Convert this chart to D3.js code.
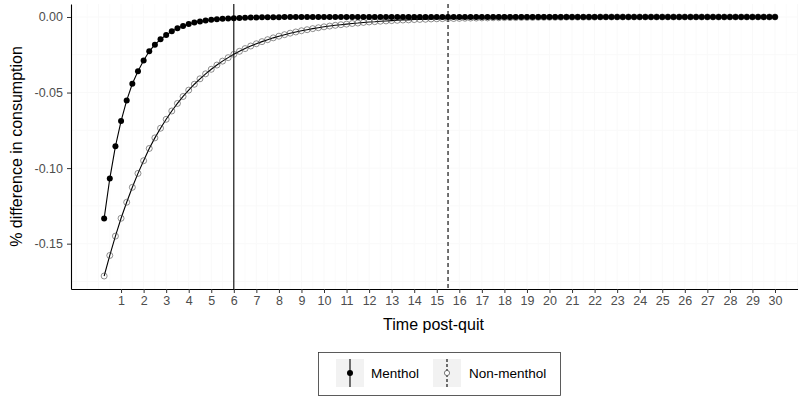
<!DOCTYPE html>
<html>
<head>
<meta charset="utf-8">
<script src="https://cdn.jsdelivr.net/npm/d3@7"></script>
<style>
  body { margin: 0; background: #fff; }
  svg { display: block; font-family: "Liberation Sans", Arial, sans-serif; }
</style>
</head>
<body>
<div id="chart"></div>
<script>
// months post-quit, every quarter month
const months = d3.range(1, 121).map(i => i / 4);

const menthol = [
  -0.1333, -0.1069, -0.0856, -0.0689, -0.0552, -0.0442, -0.0359, -0.0288,
  -0.0227, -0.0183, -0.0148, -0.0119, -0.0095, -0.0075, -0.0059, -0.0046,
  -0.0037, -0.0030, -0.0024, -0.0019, -0.0015, -0.0012, -0.0010, -0.0008,
  -0.0006, -0.0005, -0.0004, -0.0003, -0.0002, -0.0002, -0.0001, -0.0001,
  0, 0, 0, 0, 0, 0, 0, 0, 0, 0, 0, 0, 0, 0, 0, 0,
  0, 0, 0, 0, 0, 0, 0, 0, 0, 0, 0, 0, 0, 0, 0, 0,
  0, 0, 0, 0, 0, 0, 0, 0, 0, 0, 0, 0, 0, 0, 0, 0,
  0, 0, 0, 0, 0, 0, 0, 0, 0, 0, 0, 0, 0, 0, 0, 0,
  0, 0, 0, 0, 0, 0, 0, 0, 0, 0, 0, 0, 0, 0, 0, 0,
  0, 0, 0, 0, 0, 0, 0, 0
];

const nonMenthol = [
  -0.1714, -0.1578, -0.1450, -0.1332, -0.1226, -0.1127, -0.1035, -0.0951,
  -0.0870, -0.0800, -0.0736, -0.0677, -0.0622, -0.0572, -0.0526, -0.0484,
  -0.0445, -0.0409, -0.0376, -0.0346, -0.0318, -0.0292, -0.0269, -0.0247,
  -0.0227, -0.0209, -0.0192, -0.0177, -0.0163, -0.0150, -0.0138, -0.0127,
  -0.0117, -0.0107, -0.0099, -0.0091, -0.0084, -0.0077, -0.0071, -0.0065,
  -0.0060, -0.0055, -0.0051, -0.0047, -0.0043, -0.0040, -0.0036, -0.0033,
  -0.0031, -0.0028, -0.0026, -0.0024, -0.0022, -0.0020, -0.0019, -0.0017,
  -0.0016, -0.0015, -0.0013, -0.0012, -0.0011, -0.0010, -0.0010, -0.0009,
  -0.0008, -0.0007, -0.0007, -0.0006, -0.0006, -0.0005, -0.0005, -0.0004,
  -0.0004, -0.0004, -0.0003, -0.0003, -0.0003, -0.0002, -0.0002, -0.0002,
  -0.0002, -0.0002, -0.0001, -0.0001, -0.0001, -0.0001, -0.0001, -0.0001,
  0, 0, 0, 0, 0, 0, 0, 0, 0, 0, 0, 0, 0, 0, 0, 0,
  0, 0, 0, 0, 0, 0, 0, 0, 0, 0, 0, 0, 0, 0, 0, 0
];

const xTicks = d3.range(1, 31);
const yTicks = [0, -0.05, -0.10, -0.15];
const vlines = [{ name: "Menthol", x: 6, dash: null }, { name: "Non-menthol", x: 15.5, dash: "4,3" }];

const width = 798, height = 396;
const margin = { left: 71, right: 798, top: 4, bottom: 289 };

const svg = d3.select("#chart").append("svg")
  .attr("width", width)
  .attr("height", height);

const x = d3.scaleLinear().domain([-1.22, 31.02]).range([margin.left, margin.right]);
const y = d3.scaleLinear().domain([-0.18, 0.0086]).range([margin.bottom, margin.top]);

// very faint grid
const grid = svg.append("g");
d3.range(-1, 31.5, 0.5).forEach(v => {
  grid.append("line")
    .attr("x1", x(v)).attr("x2", x(v)).attr("y1", margin.top).attr("y2", margin.bottom)
    .attr("stroke", "#f9f9f9").attr("stroke-width", Number.isInteger(v) ? 1 : 0.6);
});
d3.range(-0.175, 0.001, 0.025).forEach(v => {
  grid.append("line")
    .attr("x1", margin.left).attr("x2", margin.right).attr("y1", y(v)).attr("y2", y(v))
    .attr("stroke", "#f9f9f9").attr("stroke-width", 1);
});

// vertical reference lines
svg.selectAll("line.vline")
  .data(vlines)
  .enter()
  .append("line")
  .attr("class", "vline")
  .attr("x1", d => x(d.x)).attr("x2", d => x(d.x))
  .attr("y1", margin.top).attr("y2", margin.bottom)
  .attr("stroke", "#000")
  .attr("stroke-width", 1.1)
  .attr("stroke-dasharray", d => d.dash);

const line = d3.line().x(d => x(d[0])).y(d => y(d[1]));
const mData = months.map((m, i) => [m, menthol[i]]);
const nData = months.map((m, i) => [m, nonMenthol[i]]);

svg.append("path").datum(nData)
  .attr("d", line).attr("fill", "none").attr("stroke", "#000").attr("stroke-width", 1.1);
svg.append("path").datum(mData)
  .attr("d", line).attr("fill", "none").attr("stroke", "#000").attr("stroke-width", 1.1);

svg.selectAll("circle.non")
  .data(nData)
  .enter()
  .append("circle")
  .attr("class", "non")
  .attr("cx", d => x(d[0])).attr("cy", d => y(d[1]))
  .attr("r", 3)
  .attr("fill", "none")
  .attr("stroke", "#444")
  .attr("stroke-width", 0.6);

svg.selectAll("circle.men")
  .data(mData)
  .enter()
  .append("circle")
  .attr("class", "men")
  .attr("cx", d => x(d[0])).attr("cy", d => y(d[1]))
  .attr("r", 3)
  .attr("fill", "#000");

// axes
const xAxis = svg.append("g")
  .attr("transform", "translate(0," + margin.bottom + ")")
  .call(d3.axisBottom(x).tickValues(xTicks).tickSize(4).tickSizeOuter(0).tickPadding(3).tickFormat(d3.format("d")));
const yAxis = svg.append("g")
  .attr("transform", "translate(" + margin.left + ",0)")
  .call(d3.axisLeft(y).tickValues(yTicks).tickSize(4).tickSizeOuter(0).tickPadding(4).tickFormat(d3.format(".2f")));

[xAxis, yAxis].forEach(g => {
  g.select(".domain").attr("stroke", "#000").attr("stroke-width", 1.1);
  g.selectAll(".tick line").attr("stroke", "#333");
  g.selectAll(".tick text").attr("fill", "#4d4d4d").style("font-size", "12.5px")
    .style("font-family", "'Liberation Sans', Arial, sans-serif");
});
yAxis.selectAll(".tick text").text(d => d3.format(".2f")(d).replace("−", "-"));

// axis titles
svg.append("text")
  .attr("x", (margin.left + margin.right) / 2 - 1)
  .attr("y", 330)
  .attr("text-anchor", "middle")
  .style("font-size", "16px")
  .text("Time post-quit");

svg.append("text")
  .attr("transform", "translate(22," + (margin.top + margin.bottom) / 2 + ") rotate(-90)")
  .attr("text-anchor", "middle")
  .style("font-size", "16px")
  .text("% difference in consumption");

// legend
const legend = svg.append("g");
legend.append("rect")
  .attr("x", 318.5).attr("y", 352.5).attr("width", 242).attr("height", 43)
  .attr("fill", "#fff").attr("stroke", "#333").attr("stroke-width", 0.8);

const keys = [
  { name: "Menthol", kx: 336, tx: 371, filled: true, dash: null },
  { name: "Non-menthol", kx: 433, tx: 469, filled: false, dash: "3,2" }
];
const key = legend.selectAll("g.key").data(keys).enter().append("g").attr("class", "key");
key.append("rect")
  .attr("x", d => d.kx).attr("y", 359).attr("width", 28).attr("height", 28)
  .attr("fill", "#f2f2f2");
key.append("line")
  .attr("x1", d => d.kx + 14).attr("x2", d => d.kx + 14)
  .attr("y1", 359).attr("y2", 387)
  .attr("stroke", "#000").attr("stroke-width", 1.1)
  .attr("stroke-dasharray", d => d.dash);
key.append("circle")
  .attr("cx", d => d.kx + 14).attr("cy", 373)
  .attr("r", d => d.filled ? 3 : 2.6)
  .attr("fill", d => d.filled ? "#000" : "#fff")
  .attr("stroke", d => d.filled ? "none" : "#444")
  .attr("stroke-width", 0.7);
key.append("text")
  .attr("x", d => d.tx).attr("y", 373)
  .attr("dy", "0.35em")
  .style("font-size", "13.5px")
  .text(d => d.name);
</script>
</body>
</html>
